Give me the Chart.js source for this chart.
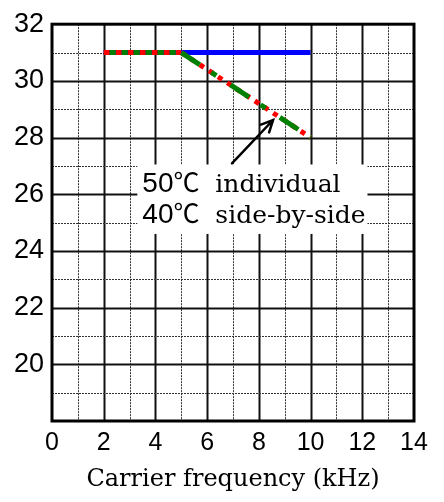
<!DOCTYPE html>
<html lang="en">

<head>
    <meta charset="UTF-8">
    <title>Carrier frequency derating</title>
    <script src="https://cdn.jsdelivr.net/npm/chart.js"></script>
    <style>
        body {
            margin: 0;
            background: #fff;
        }

        canvas {
            display: block;
        }
    </style>
</head>

<body>
    <canvas id="derating" width="444" height="502"></canvas>

    <script>
        // Rated current (A) against carrier frequency (kHz)
        const freqFlat = [2, 10];
        const currentFlat = [31, 31];
        const freqDerated = [2, 5, 10];
        const currentDerated = [31, 31, 28];

        // Annotation lines: ambient temperature + mounting
        const noteTemps = ['50', '40'];
        const noteMounting = ['individual', 'side-by-side'];

        const xTicks = [0, 2, 4, 6, 8, 10, 12, 14];
        const yTicks = [20, 22, 24, 26, 28, 30, 32];

        const toPoints = (xs, ys) => xs.map((v, i) => ({ x: v, y: ys[i] }));
        const flat = c => c.p0.parsed.y === c.p1.parsed.y;

        // grid (solid on even values, dotted on odd), then frame + note on top
        const frame = {
            id: 'frame',
            beforeDatasetsDraw(chart) {
                const { ctx, chartArea: a, scales: { x, y } } = chart;
                ctx.save();
                const stroke = (x1, y1, x2, y2, major) => {
                    ctx.beginPath();
                    ctx.lineWidth = major ? 2 : 1;
                    ctx.strokeStyle = major ? '#111' : '#333';
                    ctx.setLineDash(major ? [] : [2, 1]);
                    ctx.moveTo(x1, y1);
                    ctx.lineTo(x2, y2);
                    ctx.stroke();
                };
                for (let v = x.min + 1; v < x.max; v++) {
                    const px = Math.round(x.getPixelForValue(v)) + 0.5;
                    stroke(px, a.top, px, a.bottom, v % 2 === 0);
                }
                for (let v = y.min + 1; v < y.max; v++) {
                    const py = Math.round(y.getPixelForValue(v)) + 0.5;
                    stroke(a.left, py, a.right, py, v % 2 === 0);
                }
                ctx.restore();
            },
            afterDatasetsDraw(chart) {
                const { ctx, chartArea: a, scales: { x, y } } = chart;
                ctx.save();

                // white label box
                const bx = x.getPixelForValue(3.3), bx2 = x.getPixelForValue(12.2);
                const by = y.getPixelForValue(27.05), by2 = y.getPixelForValue(24.6);
                ctx.fillStyle = '#fff';
                ctx.fillRect(bx, by, bx2 - bx, by2 - by);

                ctx.fillStyle = '#000';
                ctx.textBaseline = 'alphabetic';
                noteTemps.forEach((t, i) => {
                    const base = by + 28 + i * 31;
                    let cx = bx + 5;
                    ctx.font = '28px "Liberation Sans", Arial, sans-serif';
                    ctx.fillText(t, cx, base);
                    cx += ctx.measureText(t).width;
                    ctx.font = '26px "Noto Sans CJK JP", "DejaVu Sans", sans-serif';
                    ctx.fillText('\u2103', cx, base);
                    ctx.font = '25px "DejaVu Serif", "Liberation Serif", serif';
                    ctx.fillText(noteMounting[i], bx + 78, base);
                });

                // arrow from the box to the derated line
                const tx = x.getPixelForValue(6.96), ty = y.getPixelForValue(27.09);
                const hx = x.getPixelForValue(8.55), hy = y.getPixelForValue(28.62);
                const ang = Math.atan2(hy - ty, hx - tx);
                ctx.strokeStyle = '#000';
                ctx.lineWidth = 2.5;
                ctx.lineCap = 'round';
                ctx.beginPath();
                ctx.moveTo(tx, ty);
                ctx.lineTo(hx, hy);
                ctx.moveTo(hx - 13 * Math.cos(ang - 0.45), hy - 13 * Math.sin(ang - 0.45));
                ctx.lineTo(hx, hy);
                ctx.lineTo(hx - 13 * Math.cos(ang + 0.45), hy - 13 * Math.sin(ang + 0.45));
                ctx.stroke();

                // plot frame
                ctx.lineCap = 'butt';
                ctx.lineWidth = 3;
                ctx.strokeRect(a.left, a.top, a.right - a.left, a.bottom - a.top);
                ctx.restore();
            }
        };

        const tickFont = { family: '"Liberation Sans", Arial, sans-serif', size: 25 };

        new Chart(document.getElementById('derating'), {
            type: 'scatter',
            data: {
                // later datasets are painted first, so the blue line sits underneath
                datasets: [
                    {
                        label: noteTemps[1] + '\u2103 ' + noteMounting[1],
                        data: toPoints(freqDerated, currentDerated),
                        showLine: true,
                        borderColor: '#008000',
                        borderWidth: 5,
                        pointRadius: 0,
                        segment: {
                            borderDash: c => flat(c) ? [6, 6] : [22, 14, 6, 17],
                            borderDashOffset: c => flat(c) ? 6 : 0
                        }
                    },
                    {
                        label: noteTemps[0] + '\u2103 ' + noteMounting[0],
                        data: toPoints(freqDerated, currentDerated),
                        showLine: true,
                        borderColor: '#ff0000',
                        borderWidth: 5,
                        pointRadius: 0,
                        segment: {
                            borderDash: c => flat(c) ? [6, 6] : [5, 6]
                        }
                    },
                    {
                        label: 'rated',
                        data: toPoints(freqFlat, currentFlat),
                        showLine: true,
                        borderColor: '#0000ff',
                        borderWidth: 5,
                        pointRadius: 0
                    }
                ]
            },
            options: {
                responsive: false,
                animation: false,
                devicePixelRatio: 1,
                layout: { padding: { top: 16, right: 30, left: 0, bottom: 0 } },
                plugins: {
                    legend: { display: false },
                    tooltip: { enabled: false }
                },
                scales: {
                    x: {
                        type: 'linear',
                        min: 0,
                        max: 14,
                        afterFit: s => { s.height = 81; },
                        afterBuildTicks: s => { s.ticks = xTicks.map(v => ({ value: v })); },
                        grid: { display: false, drawTicks: false },
                        border: { display: false },
                        ticks: { color: '#000', font: tickFont, padding: 7, maxRotation: 0 },
                        title: {
                            display: true,
                            text: 'Carrier frequency (kHz)',
                            color: '#000',
                            font: { family: '"DejaVu Serif", "Liberation Serif", serif', size: 24 },
                            padding: { top: 0, bottom: 8 }
                        }
                    },
                    y: {
                        min: 18,
                        max: 32,
                        afterFit: s => { s.width = 52; },
                        afterBuildTicks: s => { s.ticks = yTicks.map(v => ({ value: v })); },
                        grid: { display: false, drawTicks: false },
                        border: { display: false },
                        ticks: { color: '#000', font: { ...tickFont, size: 27 }, padding: 8 }
                    }
                }
            },
            plugins: [frame]
        });
    </script>
</body>

</html>
